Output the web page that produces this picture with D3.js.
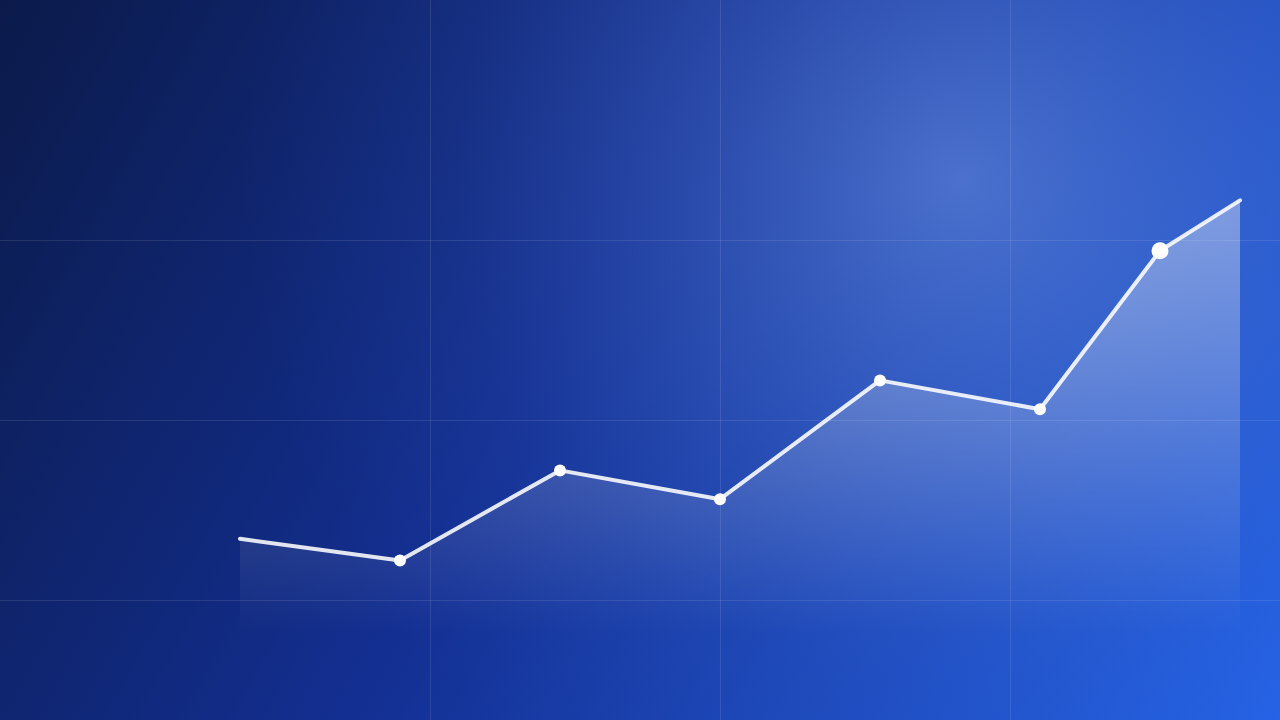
<!doctype html>
<html lang="en">
<head>
    <meta charset="UTF-8">
    <title>growth-line</title>
    <style>
        html, body { margin: 0; padding: 0; background: #0c1a48; }
        svg { display: block; }
        .grid line { stroke: #ffffff; stroke-opacity: 0.1; stroke-width: 1px; }
        .line { fill: none; stroke: #ffffff; stroke-opacity: 0.88; stroke-width: 4px; stroke-linecap: round; stroke-linejoin: round; }
        .dot { fill: #ffffff; }
    </style>
</head>
<body>

<svg width="1280" height="720"></svg>

<script src="https://d3js.org/d3.v7.min.js"></script>
<script>
  // data
  const xValues = [0, 1, 2, 3, 4, 5, 5.75, 6.25]
  const yValues = [17, 11, 36, 28, 61, 53, 97, 111]
  const dotIndex = [1, 2, 3, 4, 5, 6]
  const bigDot = 6
  const gridXTicks = [1, 2, 3]
  const gridYTicks = [0, 50, 100]

  const width = 1280
  const height = 720
  const svg = d3.select('svg')

  const x = d3.scaleLinear().domain([0, 6.25]).range([240, 1240])
  const y = d3.scaleLinear().domain([0, 100]).range([600, 240])
  const gx = d3.scaleLinear().domain([0, 4]).range([140, 1300])

  const defs = svg.append('defs')

  // background gradient, dark navy top left to bright blue bottom right
  const bg = defs.append('linearGradient')
    .attr('id', 'bg')
    .attr('gradientUnits', 'userSpaceOnUse')
    .attr('x1', 0).attr('y1', 0).attr('x2', 1280).attr('y2', 720)
  bg.append('stop').attr('offset', '0%').attr('stop-color', '#0b1a4a')
  bg.append('stop').attr('offset', '45%').attr('stop-color', '#132f92')
  bg.append('stop').attr('offset', '100%').attr('stop-color', '#2462e6')

  // soft light glow upper right
  const glow = defs.append('radialGradient')
    .attr('id', 'glow')
    .attr('gradientUnits', 'userSpaceOnUse')
    .attr('cx', 960).attr('cy', 180).attr('r', 720)
  glow.append('stop').attr('offset', '0%').attr('stop-color', '#7ea2ec').attr('stop-opacity', 0.5)
  glow.append('stop').attr('offset', '35%').attr('stop-color', '#5f86dc').attr('stop-opacity', 0.32)
  glow.append('stop').attr('offset', '70%').attr('stop-color', '#4a72d2').attr('stop-opacity', 0.1)
  glow.append('stop').attr('offset', '100%').attr('stop-color', '#3b66d0').attr('stop-opacity', 0)

  const fade = defs.append('linearGradient')
    .attr('id', 'fade')
    .attr('gradientUnits', 'userSpaceOnUse')
    .attr('x1', 0).attr('y1', y(111)).attr('x2', 0).attr('y2', 635)
  fade.append('stop').attr('offset', '0%').attr('stop-color', '#ffffff').attr('stop-opacity', 0.38)
  fade.append('stop').attr('offset', '100%').attr('stop-color', '#ffffff').attr('stop-opacity', 0)

  svg.append('rect').attr('width', width).attr('height', height).attr('fill', 'url(#bg)')
  svg.append('rect').attr('width', width).attr('height', height).attr('fill', 'url(#glow)')

  // grid
  const grid = svg.append('g').attr('class', 'grid')
  grid.selectAll('line.v')
    .data(gridXTicks)
    .enter()
    .append('line')
    .attr('class', 'v')
    .attr('x1', d => gx(d) + 0.5).attr('x2', d => gx(d) + 0.5)
    .attr('y1', 0).attr('y2', height)
  grid.selectAll('line.h')
    .data(gridYTicks)
    .enter()
    .append('line')
    .attr('class', 'h')
    .attr('y1', d => y(d) + 0.5).attr('y2', d => y(d) + 0.5)
    .attr('x1', 0).attr('x2', width)

  const points = xValues.map((v, i) => [v, yValues[i]])

  const area = d3.area()
    .x(d => x(d[0]))
    .y0(640)
    .y1(d => y(d[1]))

  svg.append('path')
    .datum(points)
    .attr('fill', 'url(#fade)')
    .attr('d', area)

  const line = d3.line()
    .x(d => x(d[0]))
    .y(d => y(d[1]))

  svg.append('path')
    .datum(points)
    .attr('class', 'line')
    .attr('d', line)

  svg.selectAll('circle.dot')
    .data(dotIndex)
    .enter()
    .append('circle')
    .attr('class', 'dot')
    .attr('cx', i => x(xValues[i]))
    .attr('cy', i => y(yValues[i]))
    .attr('r', i => i === bigDot ? 8.5 : 6)
</script>
</body>
</html>
